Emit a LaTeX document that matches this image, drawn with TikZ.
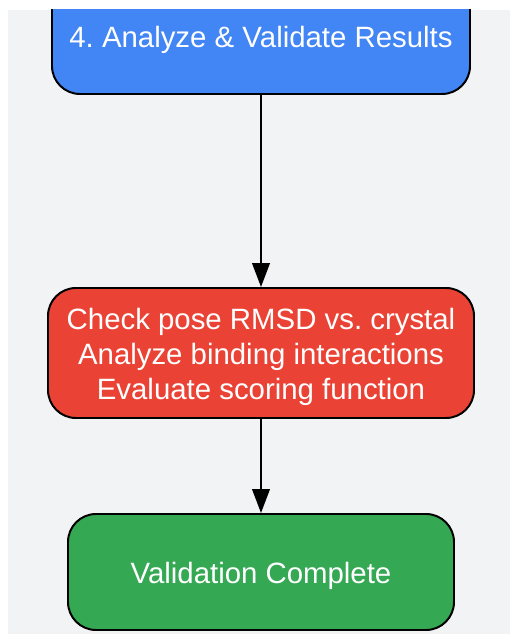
\documentclass[tikz,border=0pt]{standalone}
\usepackage{fontspec}
\setmainfont{Liberation Sans}
\usetikzlibrary{arrows.meta}
\definecolor{stepblue}{HTML}{4285F4}
\definecolor{stepred}{HTML}{EA4335}
\definecolor{stepgreen}{HTML}{34A853}
\definecolor{bggray}{HTML}{F1F3F4}
\newcommand{\lowline}[1]{\raisebox{-2.7pt}[\height][\depth]{#1}}
\tikzset{
	box/.style={draw=black,line width=1.4pt,rounded corners=0.7cm,text=white,align=center,
		font=\fontsize{20.9}{24.9}\selectfont\frenchspacing},
	flow/.style={line width=1.4pt,-{Triangle[length=17pt,width=12.5pt]}}
}
\begin{document}
\begin{tikzpicture}
		\useasboundingbox(0,0)rectangle(12.75,15.85);
		\fill[bggray](0.2,0)rectangle(12.75,15.6);
		\begin{scope}
			\clip(0.2,0)rectangle(12.75,15.6);
			\node[box,fill=stepblue,minimum width=10.45cm,minimum height=2.9cm](analyze)at(6.525,14.95){\lowline{4. Analyze \& Validate Results}};
		\end{scope}
		\node[box,fill=stepred,minimum width=10.65cm,minimum height=3.25cm](check)at(6.525,7.025){\lowline{Check pose RMSD vs. crystal}\\\lowline{Analyze binding interactions}\\\lowline{Evaluate scoring function}};
		\node[box,fill=stepgreen,minimum width=9.65cm,minimum height=2.9cm](done)at(6.525,1.55){\lowline{Validation Complete}};
		\draw[flow](analyze)--(check);
		\draw[flow](check)--(done);
	\end{tikzpicture}
\end{document}
